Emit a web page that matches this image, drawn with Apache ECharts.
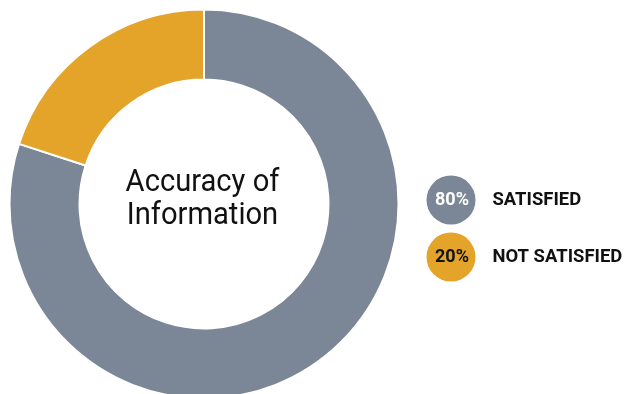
<!DOCTYPE html>
<html>
<head>
<meta charset="utf-8">
<style>
  html, body { margin: 0; padding: 0; background: #ffffff; }
  #chart { width: 626px; height: 394px; }
</style>
<script src="https://cdn.jsdelivr.net/npm/echarts@6/dist/echarts.min.js"></script>
</head>
<body>
<div id="chart"></div>
<script>
// Survey result: accuracy of information
const categories = ['SATISFIED', 'NOT SATISFIED'];
const shares = [80, 20];
const sliceColors = ['#7b8696', '#e3a429'];
const badgeTextColors = ['#ffffff', '#111111'];
const centerTitle = 'Accuracy of\nInformation';

const chart = echarts.init(document.getElementById('chart'), null, { renderer: 'canvas' });

const pieData = categories.map((name, i) => ({
  name: name,
  value: shares[i],
  itemStyle: { color: sliceColors[i] }
}));

// Legend badges: a filled circle with the share, then the category name
const legendGraphics = [];
categories.forEach((name, i) => {
  const cy = 200 + i * 57;
  legendGraphics.push({
    type: 'circle',
    shape: { cx: 451, cy: cy, r: 24.5 },
    style: { fill: sliceColors[i] },
    silent: true
  });
  legendGraphics.push({
    type: 'text',
    x: 452, y: cy,
    scaleX: 0.95,
    style: {
      text: shares[i] + '%',
      fill: badgeTextColors[i],
      font: 'bold 19px Roboto, "Liberation Sans", sans-serif',
      align: 'center',
      verticalAlign: 'middle'
    },
    silent: true
  });
  legendGraphics.push({
    type: 'text',
    x: 492.5, y: cy,
    scaleX: 0.97,
    style: {
      text: name,
      fill: '#111111',
      font: 'bold 19px Roboto, "Liberation Sans", sans-serif',
      align: 'left',
      verticalAlign: 'middle'
    },
    silent: true
  });
});

chart.setOption({
  animation: false,
  backgroundColor: '#ffffff',
  series: [{
    type: 'pie',
    center: [204, 204],
    radius: [124.5, 194.5],
    startAngle: 90,
    clockwise: true,
    label: { show: false },
    labelLine: { show: false },
    emphasis: { disabled: true },
    itemStyle: { borderColor: '#ffffff', borderWidth: 2 },
    data: pieData
  }],
  graphic: [
    {
      type: 'text',
      x: 202.5, y: 200,
      scaleX: 0.94,
      style: {
        text: centerTitle,
        fill: '#111111',
        font: '31px Roboto, "Liberation Sans", sans-serif',
        lineHeight: 33,
        align: 'center',
        verticalAlign: 'middle'
      },
      silent: true
    }
  ].concat(legendGraphics)
});
</script>
</body>
</html>
